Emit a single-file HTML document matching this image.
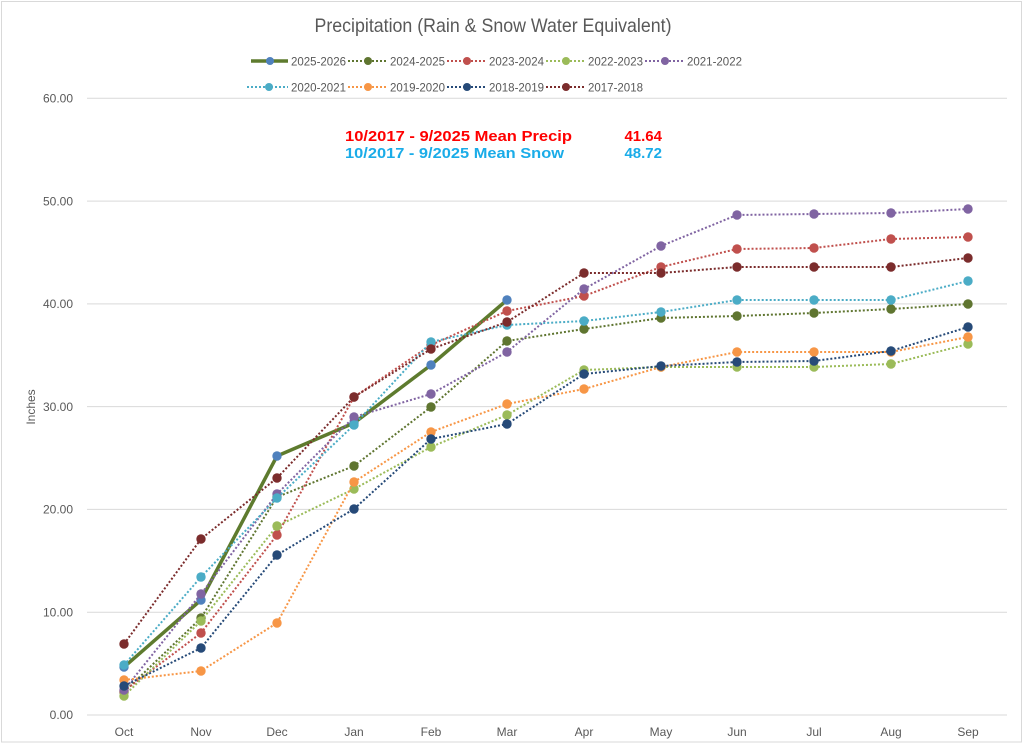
<!DOCTYPE html>
<html><head><meta charset="utf-8"><style>
html,body{margin:0;padding:0;background:#fff;}
svg{display:block;font-family:"Liberation Sans",sans-serif;}
</style></head><body>
<svg width="1024" height="744" viewBox="0 0 1024 744" xmlns="http://www.w3.org/2000/svg">
<rect x="0" y="0" width="1024" height="744" fill="#fff"/>
<rect x="1.5" y="1.5" width="1020" height="740.5" fill="none" stroke="#D9D9D9" stroke-width="1"/>
<text x="493" y="32" font-size="19.5" fill="#595959" text-anchor="middle" textLength="357" lengthAdjust="spacingAndGlyphs">Precipitation (Rain &amp; Snow Water Equivalent)</text>
<g stroke="#D9D9D9" stroke-width="1">
<line x1="87" x2="1007" y1="715" y2="715"/>
<line x1="87" x2="1007" y1="612.2" y2="612.2"/>
<line x1="87" x2="1007" y1="509.4" y2="509.4"/>
<line x1="87" x2="1007" y1="406.6" y2="406.6"/>
<line x1="87" x2="1007" y1="303.9" y2="303.9"/>
<line x1="87" x2="1007" y1="201.1" y2="201.1"/>
<line x1="87" x2="1007" y1="98.3" y2="98.3"/>
</g>
<g font-size="12" fill="#595959" text-anchor="end">
<text x="73" y="719">0.00</text>
<text x="73" y="616.5">10.00</text>
<text x="73" y="513.5">20.00</text>
<text x="73" y="411">30.00</text>
<text x="73" y="308">40.00</text>
<text x="73" y="205.5">50.00</text>
<text x="73" y="102.5">60.00</text>
</g>
<text transform="translate(35,407) rotate(-90)" font-size="12" fill="#595959" text-anchor="middle">Inches</text>
<g font-size="12" fill="#595959" text-anchor="middle">
<text x="124" y="736">Oct</text><text x="201" y="736">Nov</text><text x="277" y="736">Dec</text>
<text x="354" y="736">Jan</text><text x="431" y="736">Feb</text><text x="507" y="736">Mar</text>
<text x="584" y="736">Apr</text><text x="661" y="736">May</text><text x="737" y="736">Jun</text>
<text x="814" y="736">Jul</text><text x="891" y="736">Aug</text><text x="968" y="736">Sep</text>
</g>
<g font-size="15" font-weight="bold">
<text x="345" y="141" fill="#FF0000" textLength="227" lengthAdjust="spacingAndGlyphs">10/2017 - 9/2025 Mean Precip</text>
<text x="662" y="141" fill="#FF0000" text-anchor="end">41.64</text>
<text x="345" y="158" fill="#1AACE8" textLength="219" lengthAdjust="spacingAndGlyphs">10/2017 - 9/2025 Mean Snow</text>
<text x="662" y="158" fill="#1AACE8" text-anchor="end">48.72</text>
</g>
<!-- Legend -->
<g font-size="12" fill="#595959">
<line x1="251" x2="288" y1="61" y2="61" stroke="#5E7B2E" stroke-width="3.5"/><circle cx="270" cy="61" r="4" fill="#4F81BD"/>
<text x="291" y="65.5" textLength="55" lengthAdjust="spacingAndGlyphs">2025-2026</text>
<line x1="348" x2="387" y1="61" y2="61" stroke="#5F7530" stroke-width="2" stroke-dasharray="2 2"/><circle cx="368" cy="61" r="4" fill="#5F7530"/>
<text x="390" y="65.5" textLength="55" lengthAdjust="spacingAndGlyphs">2024-2025</text>
<line x1="447" x2="486" y1="61" y2="61" stroke="#C0504D" stroke-width="2" stroke-dasharray="2 2"/><circle cx="467" cy="61" r="4" fill="#C0504D"/>
<text x="489" y="65.5" textLength="55" lengthAdjust="spacingAndGlyphs">2023-2024</text>
<line x1="546" x2="585" y1="61" y2="61" stroke="#9BBB59" stroke-width="2" stroke-dasharray="2 2"/><circle cx="566" cy="61" r="4" fill="#9BBB59"/>
<text x="588" y="65.5" textLength="55" lengthAdjust="spacingAndGlyphs">2022-2023</text>
<line x1="645" x2="684" y1="61" y2="61" stroke="#8064A2" stroke-width="2" stroke-dasharray="2 2"/><circle cx="665" cy="61" r="4" fill="#8064A2"/>
<text x="687" y="65.5" textLength="55" lengthAdjust="spacingAndGlyphs">2021-2022</text>

<line x1="247" x2="288" y1="87" y2="87" stroke="#4BACC6" stroke-width="2" stroke-dasharray="2 2"/><circle cx="269" cy="87" r="4" fill="#4BACC6"/>
<text x="291" y="91.5" textLength="55" lengthAdjust="spacingAndGlyphs">2020-2021</text>
<line x1="348" x2="387" y1="87" y2="87" stroke="#F79646" stroke-width="2" stroke-dasharray="2 2"/><circle cx="368" cy="87" r="4" fill="#F79646"/>
<text x="390" y="91.5" textLength="55" lengthAdjust="spacingAndGlyphs">2019-2020</text>
<line x1="447" x2="486" y1="87" y2="87" stroke="#264A78" stroke-width="2" stroke-dasharray="2 2"/><circle cx="467" cy="87" r="4" fill="#264A78"/>
<text x="489" y="91.5" textLength="55" lengthAdjust="spacingAndGlyphs">2018-2019</text>
<line x1="546" x2="585" y1="87" y2="87" stroke="#7B2C2C" stroke-width="2" stroke-dasharray="2 2"/><circle cx="566" cy="87" r="4" fill="#7B2C2C"/>
<text x="588" y="91.5" textLength="55" lengthAdjust="spacingAndGlyphs">2017-2018</text>
</g>
<!-- 2025-2026 -->
<polyline fill="none" stroke="#5E7B2E" stroke-width="3.5" stroke-linejoin="round" points="124,667 201,600 277,456 354,423 431,365 507,300"/>
<g fill="#4F81BD"><circle cx="124" cy="667" r="4.7"/><circle cx="201" cy="600" r="4.7"/><circle cx="277" cy="456" r="4.7"/><circle cx="354" cy="423" r="4.7"/><circle cx="431" cy="365" r="4.7"/><circle cx="507" cy="300" r="4.7"/></g>
<!-- 2024-2025 -->
<polyline fill="none" stroke="#5F7530" stroke-width="2" stroke-dasharray="2 2" points="124,692 201,618 277,497 354,466 431,407 507,341 584,329 661,318 737,316 814,313 891,309 968,304"/>
<g fill="#5F7530"><circle cx="124" cy="692" r="4.7"/><circle cx="201" cy="618" r="4.7"/><circle cx="277" cy="497" r="4.7"/><circle cx="354" cy="466" r="4.7"/><circle cx="431" cy="407" r="4.7"/><circle cx="507" cy="341" r="4.7"/><circle cx="584" cy="329" r="4.7"/><circle cx="661" cy="318" r="4.7"/><circle cx="737" cy="316" r="4.7"/><circle cx="814" cy="313" r="4.7"/><circle cx="891" cy="309" r="4.7"/><circle cx="968" cy="304" r="4.7"/></g>
<!-- 2023-2024 -->
<polyline fill="none" stroke="#C0504D" stroke-width="2" stroke-dasharray="2 2" points="124,691 201,633 277,535 354,397 431,345 507,311 584,296 661,267 737,249 814,248 891,239 968,237"/>
<g fill="#C0504D"><circle cx="124" cy="691" r="4.7"/><circle cx="201" cy="633" r="4.7"/><circle cx="277" cy="535" r="4.7"/><circle cx="354" cy="397" r="4.7"/><circle cx="431" cy="345" r="4.7"/><circle cx="507" cy="311" r="4.7"/><circle cx="584" cy="296" r="4.7"/><circle cx="661" cy="267" r="4.7"/><circle cx="737" cy="249" r="4.7"/><circle cx="814" cy="248" r="4.7"/><circle cx="891" cy="239" r="4.7"/><circle cx="968" cy="237" r="4.7"/></g>
<!-- 2022-2023 -->
<polyline fill="none" stroke="#9BBB59" stroke-width="2" stroke-dasharray="2 2" points="124,696 201,621 277,526 354,489 431,447 507,415 584,370 661,367 737,367 814,367 891,364 968,344"/>
<g fill="#9BBB59"><circle cx="124" cy="696" r="4.7"/><circle cx="201" cy="621" r="4.7"/><circle cx="277" cy="526" r="4.7"/><circle cx="354" cy="489" r="4.7"/><circle cx="431" cy="447" r="4.7"/><circle cx="507" cy="415" r="4.7"/><circle cx="584" cy="370" r="4.7"/><circle cx="661" cy="367" r="4.7"/><circle cx="737" cy="367" r="4.7"/><circle cx="814" cy="367" r="4.7"/><circle cx="891" cy="364" r="4.7"/><circle cx="968" cy="344" r="4.7"/></g>
<!-- 2021-2022 -->
<polyline fill="none" stroke="#8064A2" stroke-width="2" stroke-dasharray="2 2" points="124,690 201,594 277,494 354,417 431,394 507,352 584,289 661,246 737,215 814,214 891,213 968,209"/>
<g fill="#8064A2"><circle cx="124" cy="690" r="4.7"/><circle cx="201" cy="594" r="4.7"/><circle cx="277" cy="494" r="4.7"/><circle cx="354" cy="417" r="4.7"/><circle cx="431" cy="394" r="4.7"/><circle cx="507" cy="352" r="4.7"/><circle cx="584" cy="289" r="4.7"/><circle cx="661" cy="246" r="4.7"/><circle cx="737" cy="215" r="4.7"/><circle cx="814" cy="214" r="4.7"/><circle cx="891" cy="213" r="4.7"/><circle cx="968" cy="209" r="4.7"/></g>
<!-- 2020-2021 -->
<polyline fill="none" stroke="#4BACC6" stroke-width="2" stroke-dasharray="2 2" points="124,665 201,577 277,498 354,425 431,342 507,325 584,321 661,312 737,300 814,300 891,300 968,281"/>
<g fill="#4BACC6"><circle cx="124" cy="665" r="4.7"/><circle cx="201" cy="577" r="4.7"/><circle cx="277" cy="498" r="4.7"/><circle cx="354" cy="425" r="4.7"/><circle cx="431" cy="342" r="4.7"/><circle cx="507" cy="325" r="4.7"/><circle cx="584" cy="321" r="4.7"/><circle cx="661" cy="312" r="4.7"/><circle cx="737" cy="300" r="4.7"/><circle cx="814" cy="300" r="4.7"/><circle cx="891" cy="300" r="4.7"/><circle cx="968" cy="281" r="4.7"/></g>
<!-- 2019-2020 -->
<polyline fill="none" stroke="#F79646" stroke-width="2" stroke-dasharray="2 2" points="124,680 201,671 277,623 354,482 431,432 507,404 584,389 661,367 737,352 814,352 891,352 968,337"/>
<g fill="#F79646"><circle cx="124" cy="680" r="4.7"/><circle cx="201" cy="671" r="4.7"/><circle cx="277" cy="623" r="4.7"/><circle cx="354" cy="482" r="4.7"/><circle cx="431" cy="432" r="4.7"/><circle cx="507" cy="404" r="4.7"/><circle cx="584" cy="389" r="4.7"/><circle cx="661" cy="367" r="4.7"/><circle cx="737" cy="352" r="4.7"/><circle cx="814" cy="352" r="4.7"/><circle cx="891" cy="352" r="4.7"/><circle cx="968" cy="337" r="4.7"/></g>
<!-- 2018-2019 -->
<polyline fill="none" stroke="#264A78" stroke-width="2" stroke-dasharray="2 2" points="124,686 201,648 277,555 354,509 431,439 507,424 584,374 661,366 737,362 814,361 891,351 968,327"/>
<g fill="#264A78"><circle cx="124" cy="686" r="4.7"/><circle cx="201" cy="648" r="4.7"/><circle cx="277" cy="555" r="4.7"/><circle cx="354" cy="509" r="4.7"/><circle cx="431" cy="439" r="4.7"/><circle cx="507" cy="424" r="4.7"/><circle cx="584" cy="374" r="4.7"/><circle cx="661" cy="366" r="4.7"/><circle cx="737" cy="362" r="4.7"/><circle cx="814" cy="361" r="4.7"/><circle cx="891" cy="351" r="4.7"/><circle cx="968" cy="327" r="4.7"/></g>
<!-- 2017-2018 -->
<polyline fill="none" stroke="#7B2C2C" stroke-width="2" stroke-dasharray="2 2" points="124,644 201,539 277,478 354,397 431,349 507,322 584,273 661,273 737,267 814,267 891,267 968,258"/>
<g fill="#7B2C2C"><circle cx="124" cy="644" r="4.7"/><circle cx="201" cy="539" r="4.7"/><circle cx="277" cy="478" r="4.7"/><circle cx="354" cy="397" r="4.7"/><circle cx="431" cy="349" r="4.7"/><circle cx="507" cy="322" r="4.7"/><circle cx="584" cy="273" r="4.7"/><circle cx="661" cy="273" r="4.7"/><circle cx="737" cy="267" r="4.7"/><circle cx="814" cy="267" r="4.7"/><circle cx="891" cy="267" r="4.7"/><circle cx="968" cy="258" r="4.7"/></g>
</svg>
</body></html>
